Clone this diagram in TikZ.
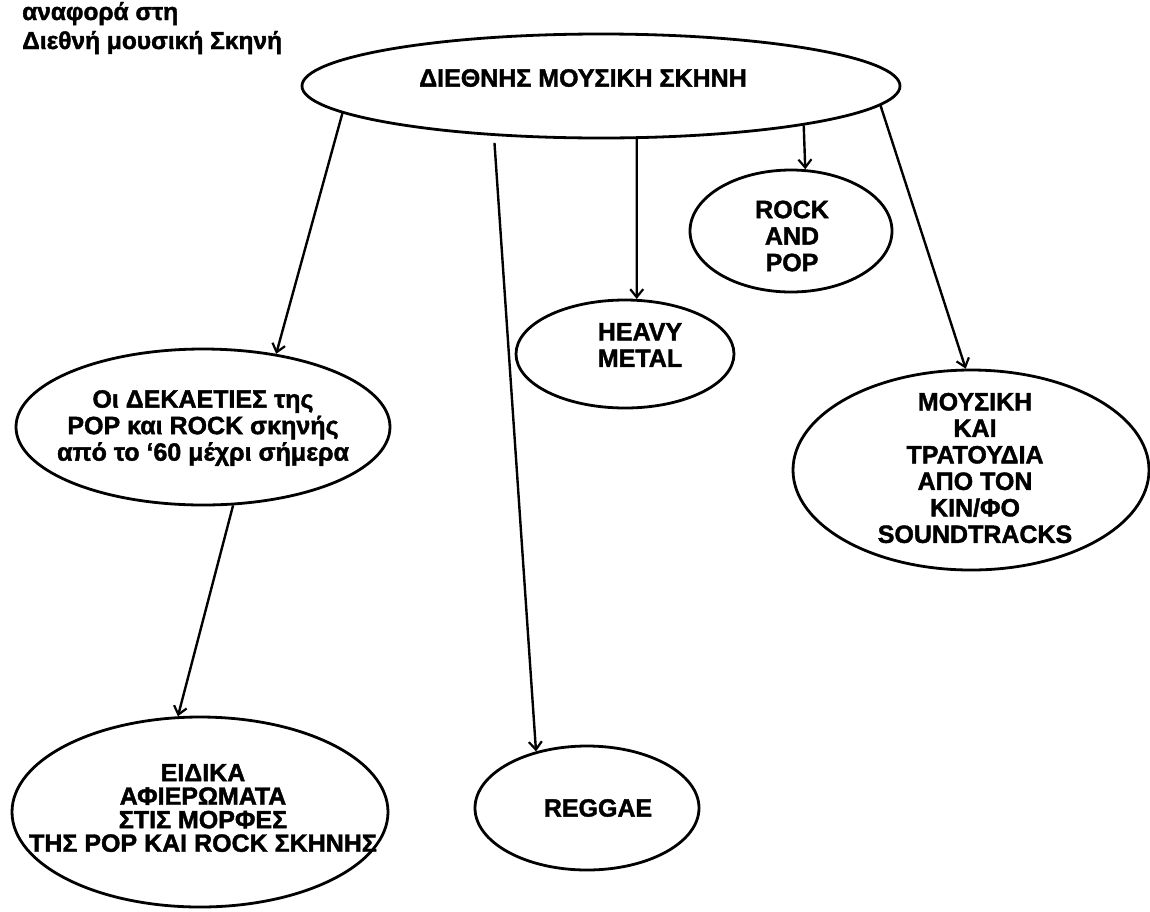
\documentclass[tikz,border=0pt]{standalone}
\usepackage{fontspec}
\setmainfont{Liberation Sans}[BoldFeatures={FakeBold=1.6}]
\usetikzlibrary{shapes.geometric,arrows.meta}
\begin{document}
\begin{tikzpicture}[x=1pt,y=-1pt,
  ell/.style={draw, ellipse, line width=2.8pt, inner sep=0pt},
  txt/.style={font=\bfseries\fontsize{25}{26.5}\selectfont, align=center, inner sep=0pt},
  hdr/.style={font=\bfseries\fontsize{24.5}{26}\selectfont, inner sep=0pt, anchor=base west},
  arr/.style={line width=2.4pt, -{Straight Barb[length=8pt,width=13pt,line width=2.2pt]}}]
\useasboundingbox[fill=white] (0,0) rectangle (1150,911);

\node[hdr] (tl1) at (22,20) {αναφορά στη};
\node[hdr] (tl2) at (22,49) {Διεθνή μουσική Σκηνή};

\node[ell, minimum width=598pt, minimum height=104pt] (top) at (601,86) {};
\node[txt] (topt) at (583,78) {ΔΙΕΘΝΗΣ ΜΟΥΣΙΚΗ ΣΚΗΝΗ};

\node[ell, minimum width=374pt, minimum height=156pt] (oi) at (203,427) {};
\node[txt] (oit) at (203,428) {Οι ΔΕΚΑΕΤΙΕΣ της\\POP και ROCK σκηνής\\από το ‘60 μέχρι σήμερα};

\node[ell, minimum width=376pt, minimum height=190pt] (eid) at (200,812) {};
\node[txt, font=\bfseries\fontsize{25}{23.5}\selectfont] (eidt) at (203,808) {ΕΙΔΙΚΑ\\ΑΦΙΕΡΩΜΑΤΑ\\ΣΤΙΣ ΜΟΡΦΕΣ\\ΤΗΣ POP ΚΑΙ ROCK ΣΚΗΝΗΣ};

\node[ell, minimum width=224pt, minimum height=124pt] (reg) at (587,808) {};
\node[txt] (regt) at (598,808) {REGGAE};

\node[ell, minimum width=218pt, minimum height=108pt] (hm) at (625,354) {};
\node[txt] (hmt) at (640,345) {HEAVY\\METAL};

\node[ell, minimum width=202pt, minimum height=122pt] (rp) at (791,231) {};
\node[txt] (rpt) at (792,236) {ROCK\\AND\\POP};

\node[ell, minimum width=356pt, minimum height=200pt] (mus) at (971,470) {};
\node[txt] (must) at (975,468) {ΜΟΥΣΙΚΗ\\ΚΑΙ\\ΤΡΑΤΟΥΔΙΑ\\ΑΠΟ ΤΟΝ\\ΚΙΝ/ΦΟ\\SOUNDTRACKS};

\draw[arr] (top.186.6) -- (oi.45);
\draw[arr, shorten <=7pt] (top.205.6) -- (reg.132.7);
\draw[arr] (top.304.1) -- (hm.78.4);
\draw[arr] (top.349) -- (rp.77.9);
\draw[arr] (top.356.6) -- (mus.93.4);
\draw[arr] (oi.291.3) -- (eid.103.7);
\end{tikzpicture}
\end{document}
